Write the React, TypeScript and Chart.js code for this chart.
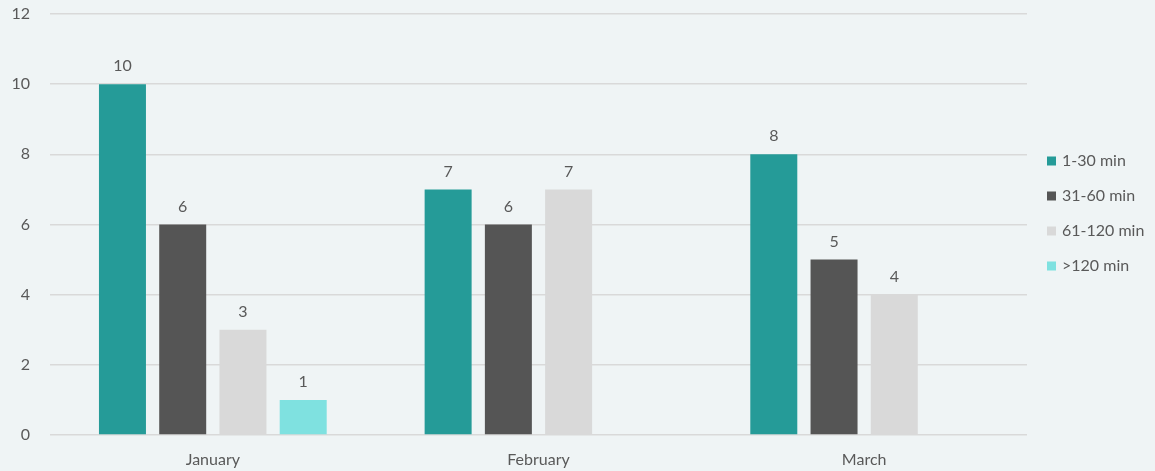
import React, { useEffect, useRef } from "react";
import { Chart, registerables } from "chart.js";

Chart.register(...registerables);

const months = ["January", "February", "March"];
const seriesNames = ["1-30 min", "31-60 min", "61-120 min", ">120 min"];
const short = [10, 7, 8];
const medium = [6, 6, 5];
const long = [3, 7, 4];
const veryLong: (number | null)[] = [1, null, null];
const colors = ["#259b98", "#555555", "#d9d9d9", "#7fe1e0"];
const yTicks = [0, 2, 4, 6, 8, 10, 12];

const textColor = "#595959";
const fontFamily = "Lato, 'Open Sans', sans-serif";

const valueLabels = {
  id: "valueLabels",
  afterDatasetsDraw(chart: any) {
    const ctx = chart.ctx;
    ctx.save();
    ctx.font = `16px ${fontFamily}`;
    ctx.fillStyle = textColor;
    ctx.textAlign = "center";
    ctx.textBaseline = "bottom";
    chart.data.datasets.forEach((ds: any, i: number) => {
      const meta = chart.getDatasetMeta(i);
      meta.data.forEach((bar: any, j: number) => {
        const v = ds.data[j];
        if (v === null || v === undefined) return;
        ctx.fillText(String(v), bar.x, bar.y - 10);
      });
    });
    ctx.restore();
  },
};

const sideLegend = {
  id: "sideLegend",
  afterDraw(chart: any) {
    const ctx = chart.ctx;
    ctx.save();
    ctx.font = `16px ${fontFamily}`;
    ctx.textBaseline = "middle";
    ctx.textAlign = "left";
    const x = chart.chartArea.right + 20;
    const y0 = 161;
    const step = 35;
    seriesNames.forEach((name, i) => {
      const y = y0 + i * step;
      ctx.fillStyle = colors[i];
      ctx.fillRect(x, y - 4.5, 9, 9);
      ctx.fillStyle = textColor;
      ctx.fillText(name, x + 15, y);
    });
    ctx.restore();
  },
};

export default function App() {
  const ref = useRef<HTMLCanvasElement>(null);

  useEffect(() => {
    if (!ref.current) return;
    const series = [short, medium, long, veryLong];
    const chart = new Chart(ref.current, {
      type: "bar",
      data: {
        labels: months,
        datasets: series.map((data, i) => ({
          label: seriesNames[i],
          data,
          backgroundColor: colors[i],
          borderColor: colors[i],
          borderWidth: 0,
          categoryPercentage: 0.74,
          barPercentage: 0.78,
        })),
      },
      options: {
        animation: false,
        responsive: false,
        layout: { padding: { top: 14, right: 128, left: 0, bottom: 0 } },
        plugins: {
          legend: { display: false },
          tooltip: { enabled: false },
        },
        scales: {
          x: {
            grid: { display: false, drawTicks: false },
            border: { display: false },
            ticks: {
              color: textColor,
              font: { family: fontFamily, size: 16 },
              padding: 15,
            },
            afterFit: (s: any) => {
              s.height = 36;
            },
          },
          y: {
            min: 0,
            max: 12,
            afterBuildTicks: (s: any) => {
              s.ticks = yTicks.map((v) => ({ value: v }));
            },
            grid: { color: "#d9d9d9", lineWidth: 1.5, drawTicks: false },
            border: { display: false },
            ticks: {
              color: textColor,
              font: { family: fontFamily, size: 16 },
              padding: 20,
            },
            afterFit: (s: any) => {
              s.width = 50;
              s.paddingTop = 0;
              s.paddingBottom = 0;
            },
          },
        },
      },
      plugins: [valueLabels, sideLegend],
    });
    return () => chart.destroy();
  }, []);

  return (
    <div
      style={{
        position: "fixed",
        left: 0,
        top: 0,
        width: 1155,
        height: 471,
        background: "#eff4f5",
      }}
    >
      <canvas ref={ref} width={1155} height={471} style={{ display: "block" }} />
    </div>
  );
}
